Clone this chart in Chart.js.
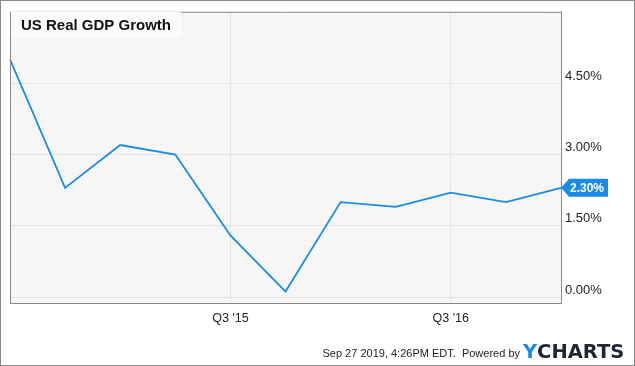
<!DOCTYPE html>
<html>
<head>
<meta charset="utf-8">
<title>US Real GDP Growth</title>
<script src="https://cdn.jsdelivr.net/npm/chart.js@4"></script>
<style>
    body { margin: 0; background: #fff; }
    #wrap { width: 635px; height: 366px; }
</style>
</head>
<body>
<div id="wrap"><canvas id="gdpChart" width="635" height="366"></canvas></div>
<script>
// DATA
const quarters = ["Q3 '14", "Q4 '14", "Q1 '15", "Q2 '15", "Q3 '15", "Q4 '15", "Q1 '16", "Q2 '16", "Q3 '16", "Q4 '16", "Q1 '17"];
const gdpGrowth = [5.0, 2.3, 3.2, 3.0, 1.3, 0.12, 2.0, 1.9, 2.2, 2.0, 2.3];
const xTickLabels = ["Q3 '15", "Q3 '16"];
const yTickValues = [0, 1.5, 3.0, 4.5];

const chartTitle = 'US Real GDP Growth';
const footerText = 'Sep 27 2019, 4:26PM EDT.  Powered by';

const blue = '#1a8be6';
const gridColor = '#e3e3e3';
const frameColor = '#8a8a8a';

// PLUGIN: background plot, title box, frame, footer, last value tag
const decorPlugin = {
    id: 'decor',
    beforeDraw(chart) {
        const { ctx, chartArea: a } = chart;
        ctx.save();
        ctx.fillStyle = '#f6f6f6';
        ctx.fillRect(a.left, a.top, a.right - a.left, a.bottom - a.top);
        ctx.restore();
    },
    beforeDatasetsDraw(chart) {
        const { ctx, chartArea: a } = chart;
        ctx.save();
        // garis atas plot (ketutup kotak judul di kiri)
        ctx.strokeStyle = frameColor;
        ctx.lineWidth = 1;
        ctx.beginPath();
        ctx.moveTo(a.left, a.top + 0.5);
        ctx.lineTo(a.right, a.top + 0.5);
        ctx.stroke();

        // kotak judul
        ctx.fillStyle = '#fbfbfb';
        ctx.fillRect(a.left + 1, a.top, 170, 26);
        ctx.fillStyle = '#111';
        ctx.font = 'bold 15px "Liberation Sans", Arial, sans-serif';
        ctx.textBaseline = 'alphabetic';
        ctx.fillText(chartTitle, a.left + 11, a.top + 18);
        ctx.restore();
    },
    afterDatasetsDraw(chart) {
        const { ctx } = chart;
        const meta = chart.getDatasetMeta(0);
        const last = meta.data[meta.data.length - 1];
        const value = gdpGrowth[gdpGrowth.length - 1];
        const x = last.x, y = last.y;

        ctx.save();
        ctx.fillStyle = blue;
        ctx.beginPath();
        ctx.moveTo(x, y);
        ctx.lineTo(x + 8, y - 9);
        ctx.lineTo(x + 47, y - 9);
        ctx.lineTo(x + 47, y + 9);
        ctx.lineTo(x + 8, y + 9);
        ctx.closePath();
        ctx.fill();

        ctx.fillStyle = '#fff';
        ctx.font = 'bold 12px "Liberation Sans", Arial, sans-serif';
        ctx.textBaseline = 'middle';
        ctx.fillText(value.toFixed(2) + '%', x + 9, y + 1);
        ctx.restore();
    },
    afterDraw(chart) {
        const { ctx, chartArea: a, width, height } = chart;
        ctx.save();
        // garis kiri plot
        ctx.strokeStyle = frameColor;
        ctx.lineWidth = 1;
        ctx.beginPath();
        ctx.moveTo(a.left + 0.5, a.top);
        ctx.lineTo(a.left + 0.5, a.bottom);
        ctx.stroke();

        // bingkai luar
        ctx.strokeRect(0.5, 0.5, width - 1, height - 1);

        // footer
        ctx.fillStyle = '#222';
        ctx.font = '11px "Liberation Sans", Arial, sans-serif';
        ctx.textAlign = 'right';
        ctx.textBaseline = 'alphabetic';
        ctx.fillText(footerText, 520, 357);

        ctx.textAlign = 'left';
        ctx.font = 'bold 19.5px "DejaVu Sans", sans-serif';
        ctx.fillStyle = blue;
        ctx.fillText('Y', 523, 357.5);
        const yw = ctx.measureText('Y').width;
        ctx.fillStyle = '#1e2835';
        ctx.fillText('CHARTS', 523 + yw, 357.5);
        ctx.restore();
    }
};

// RENDER CHART
const ctx = document.getElementById('gdpChart');

new Chart(ctx, {
    type: 'line',
    data: {
        labels: quarters,
        datasets: [{
            label: chartTitle,
            data: gdpGrowth,
            borderColor: blue,
            borderWidth: 1.8,
            pointRadius: 0,
            tension: 0,
            fill: false
        }]
    },
    options: {
        responsive: false,
        animation: false,
        layout: { padding: { left: 10, top: 10, right: 0, bottom: 0 } },
        plugins: {
            legend: { display: false },
            tooltip: { enabled: false }
        },
        scales: {
            x: {
                type: 'category',
                offset: false,
                afterFit(scale) { scale.height = 63; },
                grid: {
                    drawTicks: false,
                    color: (c) => xTickLabels.includes(quarters[c.index]) ? gridColor : 'rgba(0,0,0,0)'
                },
                border: { display: true, color: frameColor, width: 1 },
                ticks: {
                    autoSkip: false,
                    maxRotation: 0,
                    padding: 8,
                    color: '#222',
                    font: { family: '"Liberation Sans", Arial, sans-serif', size: 12.5 },
                    callback: (val, i) => xTickLabels.includes(quarters[i]) ? quarters[i] : ''
                }
            },
            y: {
                position: 'right',
                min: -0.12,
                max: 6.0,
                afterFit(scale) { scale.width = 74; },
                afterBuildTicks(scale) {
                    scale.ticks = yTickValues.map(v => ({ value: v }));
                },
                grid: { drawTicks: false, color: gridColor },
                border: { display: true, color: frameColor, width: 1 },
                ticks: {
                    padding: 4,
                    labelOffset: -7,
                    color: '#222',
                    font: { family: '"Liberation Sans", Arial, sans-serif', size: 13 },
                    callback: (v) => Number(v).toFixed(2) + '%'
                }
            }
        }
    },
    plugins: [decorPlugin]
});
</script>
</body>
</html>
